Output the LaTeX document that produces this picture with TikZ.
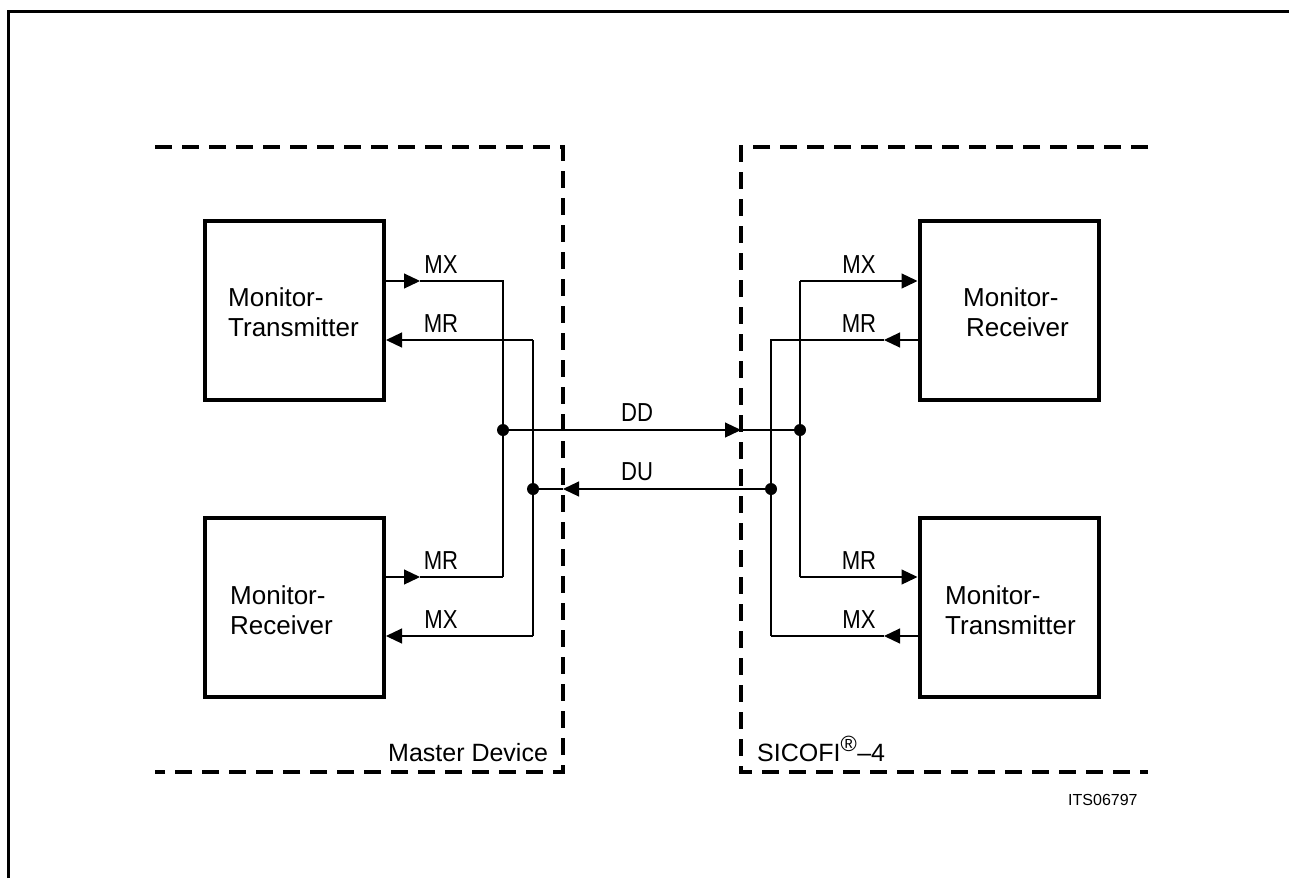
\documentclass[tikz,border=0pt]{standalone}
\usepackage{fontspec}
\setmainfont{Liberation Sans}
\newfontfamily\narrowfont[FakeStretch=0.85]{Liberation Sans}
\usetikzlibrary{arrows.meta}
\begin{document}
\begin{tikzpicture}[x=1pt,y=-1pt,
  box/.style={draw,line width=4pt,minimum width=179pt,minimum height=179pt,inner sep=0pt},
  boxtext/.style={font=\fontsize{26}{30}\selectfont,align=left,inner sep=0pt,anchor=west},
  sig/.style={line width=1.2pt},
  arr/.style={line width=1.2pt,-{Triangle[length=16pt,width=15pt]}},
  lbl/.style={font=\narrowfont\fontsize{26}{30}\selectfont,inner sep=0pt},
  dashline/.style={line width=4pt,dash pattern=on 17pt off 10pt},
  dot/.style={circle,fill,inner sep=0pt,minimum size=12pt},
  frameline/.style={line width=3pt}]
\useasboundingbox (0,0) rectangle (1289,878);
% frame
\draw[frameline] (8,878) -- (8,11) -- (1289,11);
% dashed device outlines
\draw[dashline] (155,147) -- (563,147) -- (563,772) -- (155,772);
\draw[dashline] (1148,147) -- (741,147) -- (741,772) -- (1148,772);
\node[font=\fontsize{25}{30}\selectfont,anchor=base west,inner sep=0pt] (md) at (388,761) {Master Device};
\node[font=\fontsize{25}{30}\selectfont,anchor=base west,inner sep=0pt] (sic) at (757,761) {SICOFI\textsuperscript{\fontsize{22}{22}\selectfont ®}–4};
\node[font=\fontsize{16}{19}\selectfont,anchor=base west,inner sep=0pt] (its) at (1068,805) {ITS06797};
% boxes
\node[box] (LT) at (294.5,310.5) {};
\node[box] (LB) at (294.5,607.5) {};
\node[box] (RT) at (1009,310.5) {};
\node[box] (RB) at (1009,607.5) {};
\node[boxtext] (tLT) at (228,312) {Monitor-\\Transmitter};
\node[boxtext] (tLB) at (230,610) {Monitor-\\Receiver};
\node[boxtext] (tRT) at (963,312) {Monitor-\\\hspace*{3pt}Receiver};
\node[boxtext] (tRB) at (945,610) {Monitor-\\Transmitter};
% junction coordinates
\coordinate (a1) at (503,281);
\coordinate (a2) at (503,577);
\coordinate (b1) at (533,340);
\coordinate (b2) at (533,636);
\coordinate (c1) at (800,281);
\coordinate (c2) at (800,577);
\coordinate (d1) at (771,340);
\coordinate (d2) at (771,636);
\node[dot] (jDD) at (503,430) {};
\node[dot] (jDU) at (533,489) {};
\node[dot] (kDD) at (800,430) {};
\node[dot] (kDU) at (771,489) {};
\coordinate (m1) at (420,281);
\coordinate (m2) at (420,577);
\coordinate (n1) at (884,340);
\coordinate (n2) at (884,636);
\coordinate (pDD) at (741,430);
\coordinate (pDU) at (563,489);
% left side
\draw[arr] (LT.east |- a1) -- (m1);
\draw[sig] (m1) -- (a1) -- (a2);
\draw[arr] (LB.east |- a2) -- (m2);
\draw[sig] (m2) -- (a2);
\draw[sig] (b2) -- (b1);
\draw[arr] (b1) -- (LT.east |- b1);
\draw[arr] (b2) -- (LB.east |- b2);
% right side
\draw[sig] (c2) -- (c1);
\draw[arr] (c1) -- (RT.west |- c1);
\draw[arr] (c2) -- (RB.west |- c2);
\draw[arr] (RT.west |- d1) -- (n1);
\draw[sig] (n1) -- (d1) -- (d2);
\draw[arr] (RB.west |- d2) -- (n2);
\draw[sig] (n2) -- (d2);
% DD / DU
\draw[arr] (jDD.center) -- (pDD);
\draw[sig] (pDD) -- (kDD.center);
\draw[arr] (kDU.center) -- (pDU);
\draw[sig] (pDU) -- (jDU.center);
% labels
\node[lbl,anchor=base] (lMX1) at (441,273) {MX};
\node[lbl,anchor=base] (lMR1) at (441,332) {MR};
\node[lbl,anchor=base] (lMR2) at (441,569) {MR};
\node[lbl,anchor=base] (lMX2) at (441,628) {MX};
\node[lbl,anchor=base] (rMX1) at (859,273) {MX};
\node[lbl,anchor=base] (rMR1) at (859,332) {MR};
\node[lbl,anchor=base] (rMR2) at (859,569) {MR};
\node[lbl,anchor=base] (rMX2) at (859,628) {MX};
\node[lbl,anchor=base] (lDD) at (637,421) {DD};
\node[lbl,anchor=base] (lDU) at (637,480) {DU};
\end{tikzpicture}
\end{document}
